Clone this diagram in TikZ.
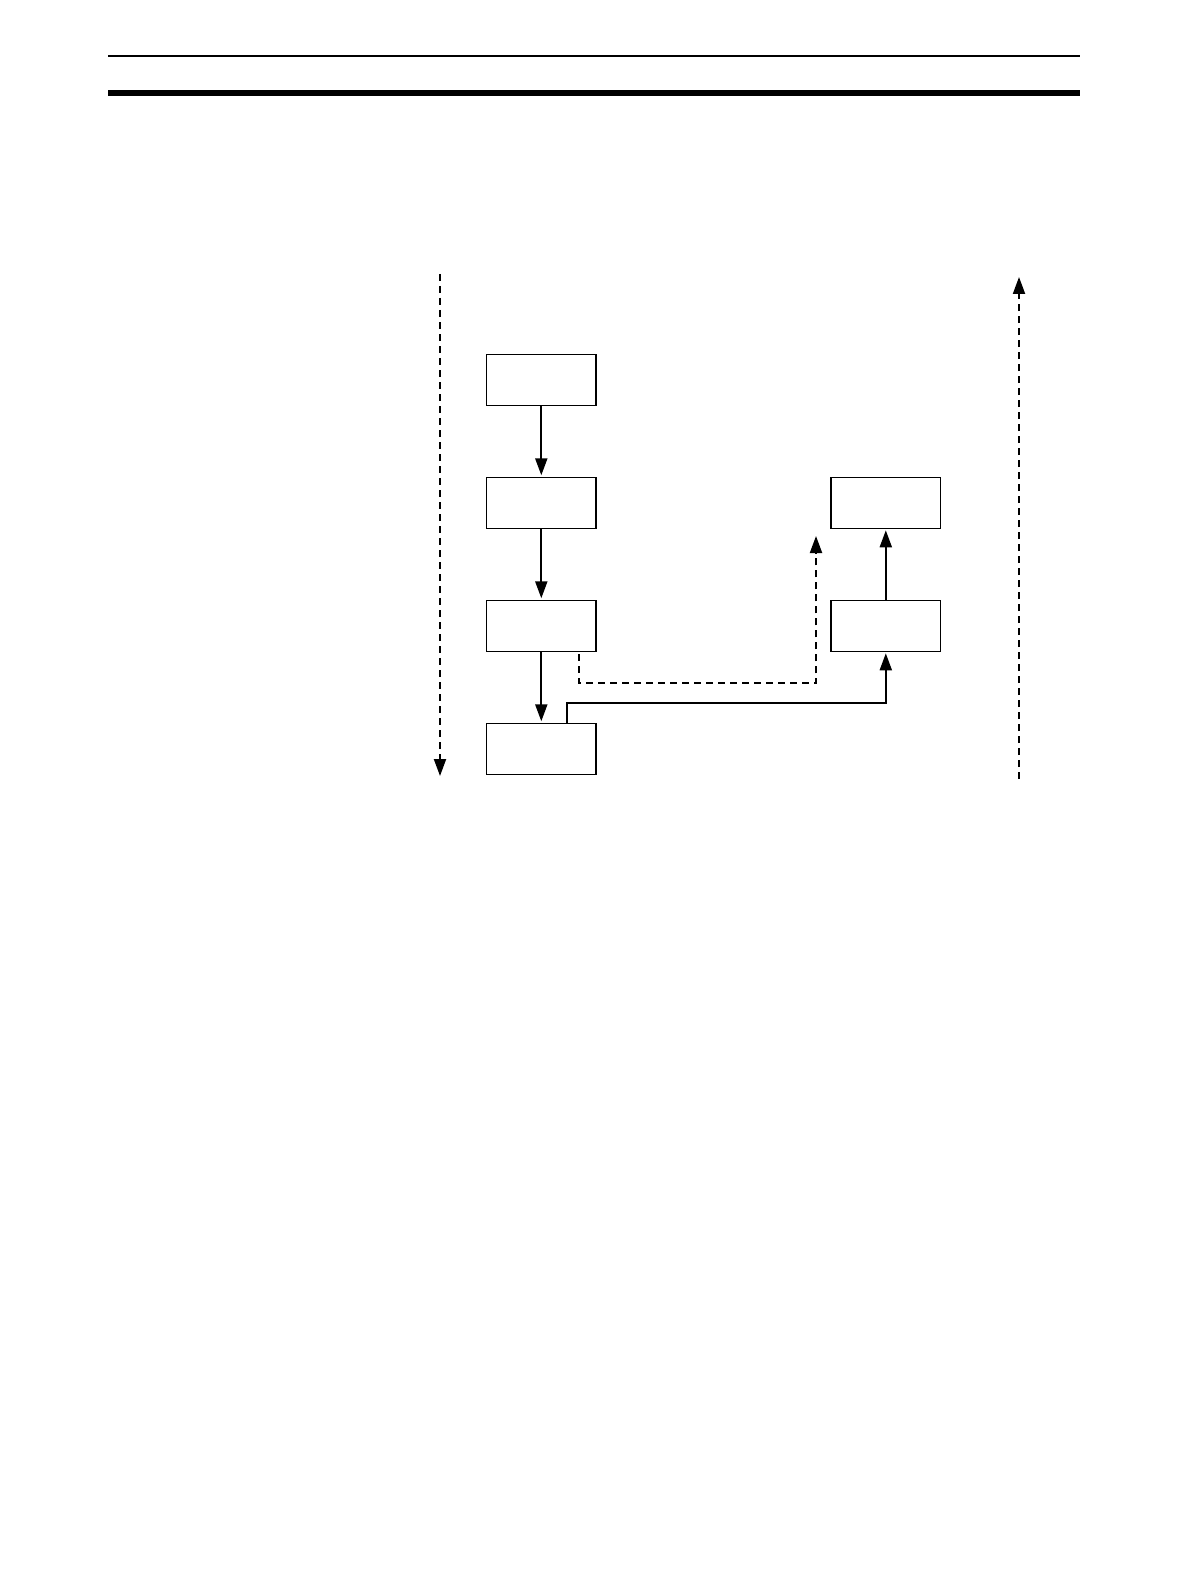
\documentclass[tikz,border=0pt]{standalone}
\usetikzlibrary{positioning,arrows.meta}
\begin{document}
\begin{tikzpicture}[x=1pt,y=-1pt,
  box/.style={draw,line width=1.3pt,minimum width=109.5pt,minimum height=51pt,inner sep=0pt,outer sep=0pt},
  flow/.style={line width=2pt,-{Triangle[length=17pt,width=12pt]},shorten >=2pt},
  flowdash/.style={flow,dash pattern=on 7pt off 5pt},
  node distance=72pt and 235pt]
\useasboundingbox (0,0) rectangle (1190,1586);
\draw[line width=2pt] (108,55.7)--(1080,55.7);
\draw[line width=6pt] (108,93)--(1080,93);
\node[box] (b1) at (541.3,379.8) {};
\node[box,below=of b1] (b2) {};
\node[box,below=of b2] (b3) {};
\node[box,below=of b3] (b4) {};
\node[box,right=of b3] (b5) {};
\node[box,above=of b5] (b6) {};
\coordinate (ltop) at (440,274);
\coordinate (lbot) at (440,776);
\coordinate (rbot) at (1019,779);
\coordinate (rtop) at (1019,277);
\coordinate (dtip) at (816,536);
\draw[flowdash,shorten >=0pt] (ltop)--(lbot);
\draw[flowdash,shorten >=0pt] (rbot)--(rtop);
\draw[flow] (b1)--(b2);
\draw[flow] (b2)--(b3);
\draw[flow] (b3)--(b4);
\draw[flow] (b5)--(b6);
\draw[flowdash,shorten >=0pt] ([xshift=37.7pt,yshift=-3pt]b3.south)--++(0,-29pt)-|(dtip);
\draw[flow] ([xshift=25.4pt]b4.north)--++(0,20pt)-|(b5);
\end{tikzpicture}
\end{document}
